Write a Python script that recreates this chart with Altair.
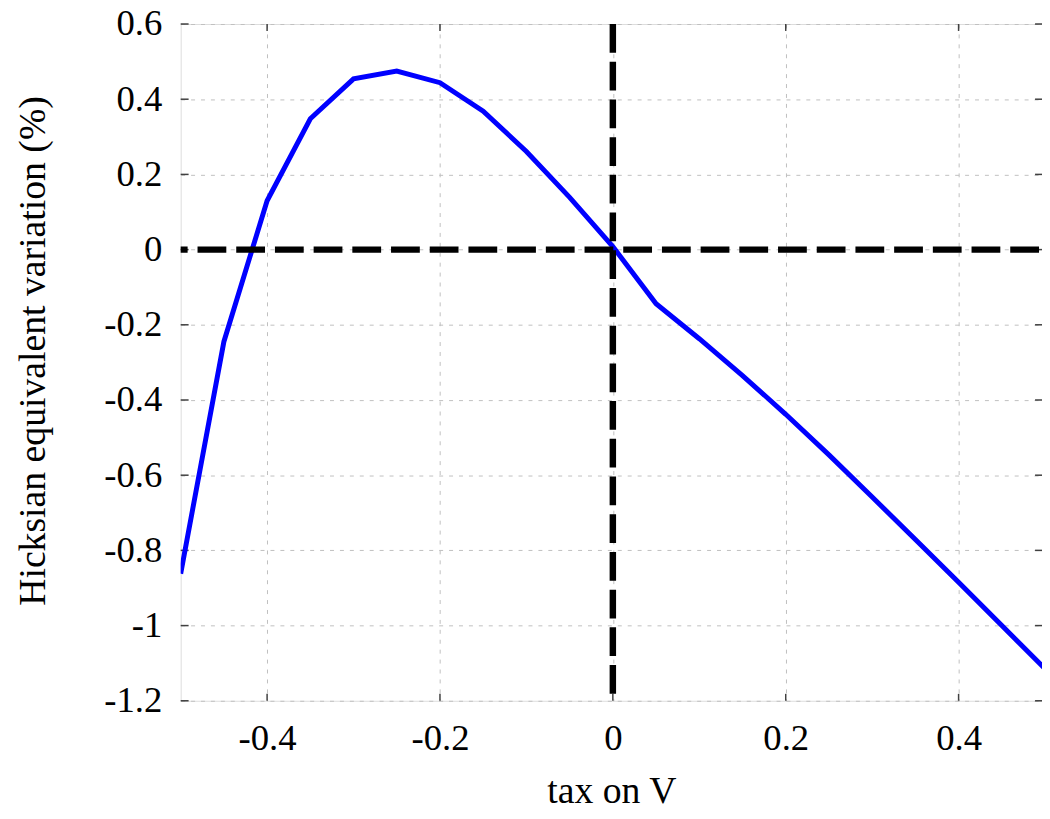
import altair as alt
import pandas as pd

# ---- data ----
tax = [-0.5, -0.45, -0.4, -0.35, -0.3, -0.25, -0.2, -0.15, -0.1, -0.05, 0.0,
       0.05, 0.1, 0.15, 0.2, 0.25, 0.3, 0.35, 0.4, 0.45, 0.5]
hev = [-0.862, -0.245, 0.130, 0.348, 0.454, 0.475, 0.444, 0.368, 0.261, 0.139, 0.008,
       -0.144, -0.237, -0.335, -0.438, -0.546, -0.658, -0.771, -0.885, -1.0, -1.115]
x_ticks = [-0.4, -0.2, 0.0, 0.2, 0.4]
y_ticks = [0.6, 0.4, 0.2, 0.0, -0.2, -0.4, -0.6, -0.8, -1.0, -1.2]
zero_lines = [0.0]
x_title = "tax on V"
y_title = "Hicksian equivalent variation (%)"

W, H = 868, 682
FONT = "Liberation Serif"
TICK = "#404040"
GRID = "#c0c0c0"

xscale = alt.Scale(domain=[-0.5, 0.4965], nice=False, zero=False)
yscale = alt.Scale(domain=[-1.2, 0.6], nice=False, zero=False)
xaxis = alt.Axis(values=x_ticks, labelExpr="toString(round(datum.value*10)/10)",
                 ticks=False, tickSize=0, domain=False, grid=True,
                 gridColor=GRID, gridDash=[4, 6], gridWidth=1,
                 labelFont=FONT, labelFontSize=37, labelColor="black",
                 labelPadding=20, labelFlush=False,
                 titleFont=FONT, titleFontSize=38, titleFontWeight="normal",
                 titleColor="black", titleBaseline="alphabetic", titleY=103)
yaxis = alt.Axis(values=y_ticks, labelExpr="toString(round(datum.value*10)/10)",
                 ticks=False, tickSize=0, domain=False, grid=True,
                 gridColor=GRID, gridDash=[4, 6], gridWidth=1,
                 labelFont=FONT, labelFontSize=37, labelColor="black",
                 labelPadding=19, labelFlush=False,
                 titleFont=FONT, titleFontSize=38, titleFontWeight="normal",
                 titleColor="black", titleBaseline="alphabetic",
                 titleX=-137, titleY=329)

X = alt.X("tax:Q", scale=xscale, axis=xaxis, title=x_title)
Y = alt.Y("hev:Q", scale=yscale, axis=yaxis, title=y_title)

df = pd.DataFrame({"tax": tax, "hev": hev})
xt = pd.DataFrame({"tax": x_ticks})
yt = pd.DataFrame({"hev": y_ticks})
zx = pd.DataFrame({"tax": zero_lines})
zy = pd.DataFrame({"hev": zero_lines})

line = alt.Chart(df).mark_line(color="#0000ff", strokeWidth=5, clip=True).encode(x=X, y=Y)

left_ticks = alt.Chart(yt).mark_rule(color=TICK, strokeWidth=1.5).encode(
    y=Y, x=alt.value(0), x2=alt.value(8))
right_ticks = alt.Chart(yt).mark_rule(color=TICK, strokeWidth=1.5).encode(
    y=Y, x=alt.value(W - 7), x2=alt.value(W))
bottom_ticks = alt.Chart(xt).mark_rule(color=TICK, strokeWidth=1.5).encode(
    x=X, y=alt.value(H - 7), y2=alt.value(H))
top_ticks = alt.Chart(xt).mark_rule(color=TICK, strokeWidth=1.5).encode(
    x=X, y=alt.value(0), y2=alt.value(7))

hzero = alt.Chart(zy).mark_rule(color="black", strokeWidth=6.5, strokeDash=[29, 10],
                                strokeDashOffset=-3).encode(y=Y)
vzero = alt.Chart(zx).mark_rule(color="black", strokeWidth=6.5, strokeDash=[29, 9]).encode(x=X)

chart = alt.layer(
    left_ticks, right_ticks, bottom_ticks, top_ticks, line, hzero, vzero
).properties(
    width=W, height=H,
    autosize=alt.AutoSizeParams(type="none"),
    padding={"left": 174, "top": 13, "right": 0, "bottom": 116},
).configure_view(
    stroke="#404040", strokeWidth=1.5
).configure(background="white")

chart.save("out.html", embed_options={"renderer": "svg", "actions": False})
